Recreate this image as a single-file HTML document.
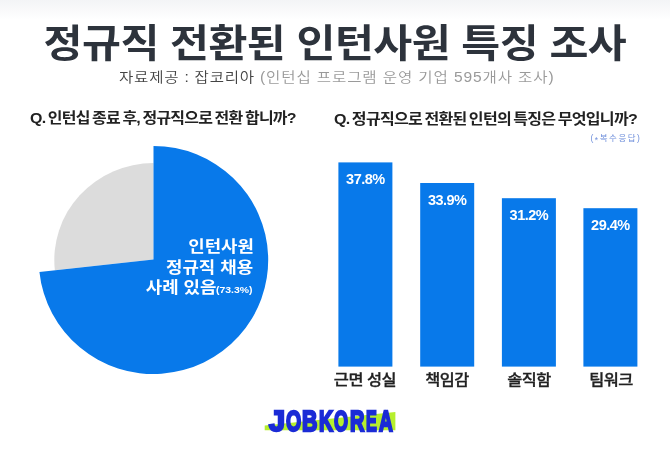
<!DOCTYPE html>
<html lang="ko">
<head>
<meta charset="utf-8">
<title>정규직 전환된 인턴사원 특징 조사</title>
<style>
html,body{margin:0;padding:0;}
body{width:670px;height:453px;overflow:hidden;background:#fff;position:relative;
  font-family:"Liberation Sans","Noto Sans CJK KR","NanumGothic",sans-serif;}
#wrap{position:absolute;left:0;top:0;width:670px;height:453px;overflow:hidden;
  background:linear-gradient(to bottom,#f3f4f6 0px,#ffffff 20px);}
.abs{position:absolute;white-space:nowrap;line-height:1;}
#title{left:0.2px;width:670px;top:24.5px;text-align:center;font-size:38.5px;font-weight:700;color:#2d333c;transform:scaleX(1.10);transform-origin:336px 0;
  letter-spacing:-0.5px;}
#sub{left:118.7px;top:70.2px;font-size:14px;font-weight:350;color:#444;letter-spacing:0.7px;transform:scaleX(1.11);transform-origin:0 0;}
#sub span{color:#9a9a9a;letter-spacing:0.8px;}
.q{font-size:15px;font-weight:700;color:#222;letter-spacing:-0.7px;word-spacing:-1.2px;transform:scaleX(1.065);transform-origin:0 0;}
#q1{left:29.5px;top:110px;}
#q2{left:334px;top:110.5px;transform:scaleX(1.07);}
#note{left:590.4px;top:134px;font-size:8.5px;color:#6f8fdb;letter-spacing:1.55px;}
#note i{font-style:normal;font-size:8.5px;position:relative;top:2px;}
#pie{position:absolute;left:0;top:0;}
.pl{right:416.5px;color:#fff;font-size:16px;font-weight:700;text-align:right;transform:scaleX(1.115);transform-origin:100% 0;}
#pct{left:216px;top:284.8px;transform:scaleX(1.1);transform-origin:0 0;color:#fff;font-size:9.5px;font-weight:700;font-family:"Liberation Sans",sans-serif;}
.bv{width:54px;text-align:center;color:#fff;font-size:14.5px;font-weight:700;letter-spacing:-0.5px;}
.bl{position:absolute;top:371.5px;-webkit-text-stroke:0.3px #222;width:100px;text-align:center;font-size:15.3px;font-weight:500;color:#222;line-height:1;letter-spacing:-0.45px;white-space:nowrap;transform:scaleX(1.07);}
#logo{left:0;top:406.3px;width:670px;height:29.5px;font-size:29.5px;font-weight:700;color:#1b2bd6;font-family:"Liberation Sans",sans-serif;-webkit-text-stroke:2.4px #1b2bd6;}
#logo span{position:absolute;top:0;display:block;transform-origin:0 0;}
</style>
</head>
<body>
<div id="wrap">
  <div id="title" class="abs">정규직 전환된 인턴사원 특징 조사</div>
  <div id="sub" class="abs">자료제공 : 잡코리아 <span>(인턴십 프로그램 운영 기업 595개사 조사)</span></div>

  <div id="q1" class="abs q">Q. 인턴십 종료 후, 정규직으로 전환 합니까?</div>
  <div id="q2" class="abs q">Q. 정규직으로 전환된 인턴의 특징은 무엇입니까?</div>
  <div id="note" class="abs">(<i>*</i>복수응답)</div>

  <svg id="pie" width="670" height="453" viewBox="0 0 670 453">
    <path d="M153.5 259.5 L153.5 163.1 A99.2 96.9 0 0 0 54.86 270.24 Z" fill="#dcdcdc"/>
    <path d="M153.5 259.5 L153.5 146 A114.7 114 0 1 1 39.43 271.91 Z" fill="#0879ea"/>
    <rect x="338.4" y="162.4" width="54" height="204.2" fill="#0879ea"/>
    <rect x="420.2" y="183.0" width="54" height="183.6" fill="#0879ea"/>
    <rect x="501.9" y="198.2" width="54" height="168.4" fill="#0879ea"/>
    <rect x="583.4" y="208.2" width="54" height="158.4" fill="#0879ea"/>
    <polygon points="264.7,425.5 395.4,411.9 395.4,430.2 264.7,430.2" fill="#b6ef2d"/>
  </svg>

  <div class="abs pl" style="top:239px;">인턴사원</div>
  <div class="abs pl" style="top:259.7px;">정규직 채용</div>
  <div class="abs pl" style="top:280.4px;right:453.5px;">사례 있음</div>
  <div id="pct" class="abs">(73.3%)</div>


  <div class="abs bv" style="left:338.4px;top:172.2px;">37.8%</div>
  <div class="abs bv" style="left:420.2px;top:193.3px;">33.9%</div>
  <div class="abs bv" style="left:501.9px;top:208.0px;">31.2%</div>
  <div class="abs bv" style="left:583.4px;top:218.0px;">29.4%</div>
  <div class="bl" style="left:315px;">근면 성실</div>
  <div class="bl" style="left:397px;">책임감</div>
  <div class="bl" style="left:479px;">솔직함</div>
  <div class="bl" style="left:561px;">팀워크</div>

  <div id="logo" class="abs"><span style="left:268.79px;transform:scaleX(0.977)">J</span><span style="left:285.57px;transform:scaleX(0.663)">O</span><span style="left:301.55px;transform:scaleX(0.723)">B</span><span style="left:318.80px;transform:scaleX(0.658)">K</span><span style="left:333.57px;transform:scaleX(0.610)">O</span><span style="left:349.68px;transform:scaleX(0.675)">R</span><span style="left:366.48px;transform:scaleX(0.549)">E</span><span style="left:378.85px;transform:scaleX(0.646)">A</span></div>
</div>
</body>
</html>
